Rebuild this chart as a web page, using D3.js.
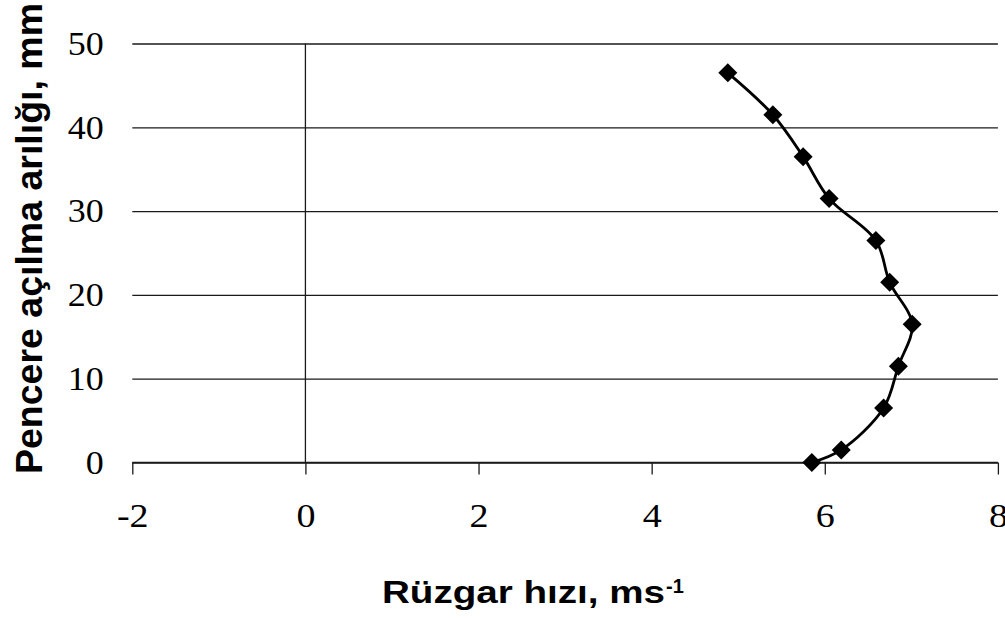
<!DOCTYPE html>
<html>
<head>
<meta charset="utf-8">
<script src="https://cdn.jsdelivr.net/npm/d3@7"></script>
<style>
  body { margin: 0; background: #fff; }
</style>
</head>
<body>
<div id="chart"></div>
<script>
// wind speed (m/s) against window opening (mm)
const windSpeed = [5.85, 6.19, 6.68, 6.85, 7.01, 6.75, 6.59, 6.05, 5.75, 5.40, 4.88]
const opening = [0, 1.5, 6.5, 11.5, 16.5, 21.5, 26.5, 31.5, 36.5, 41.5, 46.5]
const xTicks = [-2, 0, 2, 4, 6, 8]
const yTicks = [0, 10, 20, 30, 40, 50]

const sizing = { width: 1005, height: 618 }
const margin = { top: 43.5, bot: 155.5, left: 132.3, right: 7.1 }

const svg = d3.select("#chart").append("svg")
    .attr("width", sizing.width)
    .attr("height", sizing.height)

const x = d3.scaleLinear().domain([-2, 8])
    .range([margin.left, sizing.width - margin.right])
const y = d3.scaleLinear().domain([0, 50])
    .range([sizing.height - margin.bot, margin.top])

// horizontal gridlines + y labels
const yGroup = svg.append("g")
    .attr("transform", `translate(${margin.left},0)`)
    .call(d3.axisLeft(y).tickValues(yTicks).tickFormat(d3.format("d"))
        .tickSize(-(x(8) - x(-2))).tickPadding(28.5))
yGroup.select(".domain").remove()
yGroup.selectAll("line").attr("stroke", "#1a1a1a").attr("stroke-width", 1.3)
yGroup.selectAll("text")
    .attr("font-family", "'Liberation Serif', 'Times New Roman', serif")
    .attr("font-size", 34)
    .attr("fill", "#000")
    .attr("x", -28.5 / 1.06)
    .attr("transform", "scale(1.06,1)")

// x axis along the bottom
const xGroup = svg.append("g")
    .attr("transform", `translate(0,${y(0)})`)
    .call(d3.axisBottom(x).tickValues(xTicks).tickFormat(d3.format("d")).tickSize(12))
xGroup.select(".domain").attr("stroke", "#1a1a1a").attr("stroke-width", 1.3)
    .attr("d", `M${x(-2)},0H${x(8)}`)
xGroup.selectAll("line").attr("stroke", "#1a1a1a").attr("stroke-width", 1.3)
xGroup.selectAll("text")
    .attr("font-family", "'Liberation Serif', 'Times New Roman', serif")
    .attr("font-size", 34)
    .attr("fill", "#000")
    .attr("y", 65)
    .attr("dy", null)
    .attr("transform", "scale(1.12,1)")
    .text(d => d < 0 ? "-" + Math.abs(d) : d)

// vertical axis crossing at x = 0
svg.append("line")
    .attr("x1", x(0)).attr("x2", x(0))
    .attr("y1", y(50)).attr("y2", y(0))
    .attr("stroke", "#1a1a1a").attr("stroke-width", 1.3)

const data = windSpeed.map((v, i) => ({ speed: v, open: opening[i] }))

svg.append("path")
    .datum(data)
    .attr("fill", "none")
    .attr("stroke", "#000")
    .attr("stroke-width", 2.8)
    .attr("d", d3.line()
        .x(d => x(d.speed))
        .y(d => y(d.open))
        .curve(d3.curveCatmullRom.alpha(0.5)))

const r = 9.5
svg.append("g").selectAll("path")
    .data(data)
    .join("path")
    .attr("d", `M0,${-r}L${r},0L0,${r}L${-r},0Z`)
    .attr("transform", d => `translate(${x(d.speed)},${y(d.open)})`)
    .attr("fill", "#000")

// axis titles
svg.append("text")
    .attr("transform", "translate(42,238.5) rotate(-90)")
    .attr("text-anchor", "middle")
    .attr("font-family", "'Liberation Sans', Arial, sans-serif")
    .attr("font-weight", "bold")
    .attr("font-size", 37.5)
    .attr("fill", "#000")
    .text("Pencere açılma arılığı, mm")

svg.append("text")
    .attr("x", 382)
    .attr("y", 602.7)
    .attr("font-family", "'Liberation Sans', Arial, sans-serif")
    .attr("font-weight", "bold")
    .attr("font-size", 31)
    .attr("fill", "#000")
    .attr("textLength", 283)
    .attr("lengthAdjust", "spacingAndGlyphs")
    .text("Rüzgar hızı, ms")

svg.append("text")
    .attr("x", 666)
    .attr("y", 593)
    .attr("font-family", "'Liberation Sans', Arial, sans-serif")
    .attr("font-weight", "bold")
    .attr("font-size", 20)
    .attr("fill", "#000")
    .text("-1")
</script>
</body>
</html>
